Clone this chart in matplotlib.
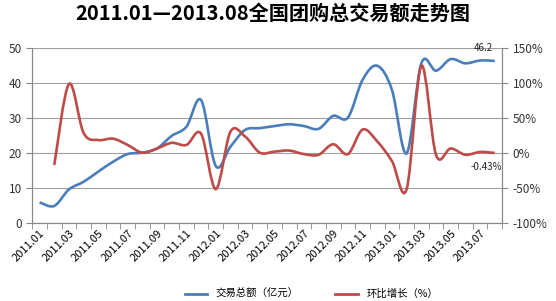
import matplotlib
matplotlib.use("Agg")
import matplotlib.pyplot as plt
from matplotlib.path import Path
from matplotlib.patches import PathPatch
import numpy as np

plt.rcParams['font.family'] = ['Noto Sans CJK SC', 'DejaVu Sans']

# months 2011.01 .. 2013.08
months = [f"{y}.{m:02d}" for y in (2011, 2012, 2013) for m in range(1, 13)][:32]

# 交易总额 (亿元)
volume = [5.8, 4.8, 9.5, 11.7, 14.6, 17.4, 19.6, 20.0, 21.2, 24.8, 27.4, 35.0,
          16.2, 21.7, 26.5, 27.0, 27.6, 28.1, 27.6, 26.8, 30.5, 30.0, 40.8, 44.8,
          37.9, 19.8, 45.5, 43.4, 46.7, 45.5, 46.3, 46.2]

# 环比增长 (%), first month has no value
growth = [None, -17.6, 98, 28, 18, 20, 11, 0, 6, 14, 11, 27,
          -52, 30, 23, 0, 1.5, 3, -2, -3, 12, -2, 33, 16,
          -12, -52, 124, -3, 6, -3, 1, -0.43]

blue = '#4A7EBB'
red = '#BE4B48'


def smooth_path(xs, ys):
    # Excel-like smoothed line: Catmull-Rom segments as cubic Beziers
    pts = np.column_stack([xs, ys])
    verts = [pts[0]]
    codes = [Path.MOVETO]
    n = len(pts)
    for i in range(n - 1):
        p0 = pts[i - 1] if i > 0 else pts[i]
        p1 = pts[i]
        p2 = pts[i + 1]
        p3 = pts[i + 2] if i + 2 < n else pts[i + 1]
        c1 = p1 + (p2 - p0) / 6.0
        c2 = p2 - (p3 - p1) / 6.0
        verts += [c1, c2, p2]
        codes += [Path.CURVE4] * 3
    return Path(verts, codes)


fig = plt.figure(figsize=(5.56, 3.01), dpi=100)
ax = fig.add_axes([0.058, 0.26, 0.845, 0.582])
ax2 = ax.twinx()

x = np.arange(len(months))
ax.add_patch(PathPatch(smooth_path(x, volume), facecolor='none', edgecolor=blue, lw=1.9, zorder=3))
gx = [i for i, g in enumerate(growth) if g is not None]
gy = [g for g in growth if g is not None]
ax2.add_patch(PathPatch(smooth_path(gx, gy), facecolor='none', edgecolor=red, lw=1.9, zorder=3))

ax.set_xlim(-0.5, len(months) - 0.5)
ax.set_ylim(0, 50)
ax2.set_ylim(-100, 150)
ax.set_yticks(range(0, 51, 10))
ax2.set_yticks(range(-100, 151, 50))
ax2.set_yticklabels([f"{v}%" for v in range(-100, 151, 50)])

ax.grid(axis='y', color='#a0a0a0', lw=0.8)
ax.set_axisbelow(True)

ax.set_xticks(x[::2])
ax.set_xticklabels(months[::2], rotation=45, ha='right', rotation_mode='anchor', fontsize=8)
ax.set_xticks(np.arange(-0.5, len(months), 1), minor=True)
ax.tick_params(axis='x', which='major', length=0, pad=4)
ax.tick_params(axis='x', which='minor', length=4, color='#888888', direction='out')

for a in (ax, ax2):
    a.spines['top'].set_visible(False)
    a.spines['left'].set_color('#888888')
    a.spines['right'].set_color('#888888')
    a.spines['bottom'].set_color('#888888')
ax.tick_params(axis='y', length=4, color='#888888', labelsize=8.5, labelcolor='#333333')
ax2.tick_params(axis='y', length=4, color='#888888', labelsize=8.5, labelcolor='#333333')

ax.annotate(f"{volume[-1]}", (x[-1], volume[-1]), xytext=(-8, 7), textcoords='offset points',
            ha='center', fontsize=7, color='#222222')
ax2.annotate(f"{growth[-1]}%", (x[-1], growth[-1]), xytext=(-6, -12), textcoords='offset points',
             ha='center', fontsize=7, color='#222222')

fig.suptitle("2011.01—2013.08全国团购总交易额走势图", x=0.49, y=0.99,
             fontsize=14.5, fontweight='bold')

h1, = ax.plot([], [], color=blue, lw=2, label='交易总额（亿元）')
h2, = ax.plot([], [], color=red, lw=2, label='环比增长（%）')
fig.legend(handles=[h1, h2], loc='lower center', bbox_to_anchor=(0.56, -0.025), ncol=2,
           frameon=False, fontsize=7.5, handlelength=2.2, columnspacing=3.5)

fig.savefig("out.png", dpi=100)
